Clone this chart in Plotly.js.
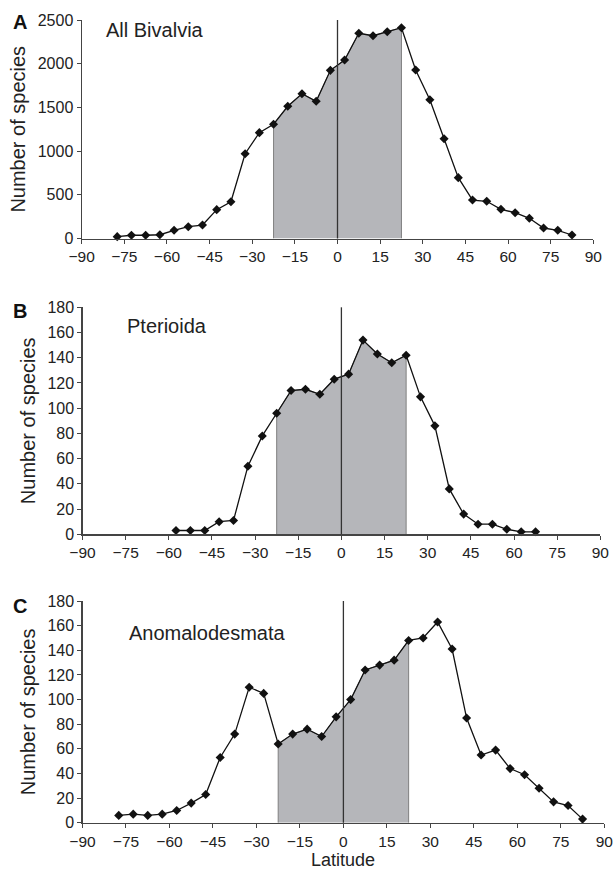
<!DOCTYPE html>
<html>
<head>
<meta charset="utf-8">
<script src="https://cdn.plot.ly/plotly-3.0.1.min.js"></script>
<style>html,body{margin:0;padding:0;background:#fff;}#chart{width:615px;height:870px;}</style>
</head>
<body>
<div id="chart"></div>
<script>
// Latitude band centres (degrees)
var latAll = [-77.5,-72.5,-67.5,-62.5,-57.5,-52.5,-47.5,-42.5,-37.5,-32.5,-27.5,-22.5,-17.5,-12.5,-7.5,-2.5,2.5,7.5,12.5,17.5,22.5,27.5,32.5,37.5,42.5,47.5,52.5,57.5,62.5,67.5,72.5,77.5,82.5];
var latPter = [-57.5,-52.5,-47.5,-42.5,-37.5,-32.5,-27.5,-22.5,-17.5,-12.5,-7.5,-2.5,2.5,7.5,12.5,17.5,22.5,27.5,32.5,37.5,42.5,47.5,52.5,57.5,62.5,67.5];
var latAnom = latAll;

// Number of species
var allBivalvia = [21,37,37,43,94,135,154,330,421,970,1211,1307,1513,1657,1570,1924,2042,2348,2320,2366,2412,1928,1588,1142,696,440,426,334,295,231,120,94,40];
var pterioida = [3,3,3,10,11,54,78,96,114,115,111,123,127,154,143,136,142,109,86,36,16,8,8,4,2,2];
var anomalodesmata = [6,7,6,7,10,16,23,53,72,110,105,64,72,76,70,86,100,124,128,132,148,150,163,141,85,55,59,44,39,28,17,14,3];

var panelNames = ["All Bivalvia","Pterioida","Anomalodesmata"];
var panelLetters = ["A","B","C"];
var xTicks = [-90,-75,-60,-45,-30,-15,0,15,30,45,60,75,90];
var xTickText = ["\u221290","\u221275","\u221260","\u221245","\u221230","\u221215","0","15","30","45","60","75","90"];
var tropicLimit = 22.5;

var W = 615, H = 870;
function px(x){return x/W;}
function py(y){return 1 - y/H;}

var panels = [
  {lat: latAll, val: allBivalvia, ymax: 2500, dtick: 500, xd:[81.7,593.3], yd:[20,238.5]},
  {lat: latPter, val: pterioida, ymax: 180, dtick: 20, xd:[82.5,600.3], yd:[307.3,534.3]},
  {lat: latAnom, val: anomalodesmata, ymax: 180, dtick: 20, xd:[82.5,604.3], yd:[601,822.8]}
];

var traces = [];
var layout = {
  width: W, height: H,
  margin: {l:0, r:0, t:0, b:0},
  paper_bgcolor: '#fff', plot_bgcolor: '#fff',
  showlegend: false,
  font: {family: 'Liberation Sans, Arial, sans-serif', color: '#222', size: 15},
  shapes: [], annotations: []
};

panels.forEach(function(p, i){
  var n = i + 1;
  var xa = 'x' + (n === 1 ? '' : n), ya = 'y' + (n === 1 ? '' : n);
  var xk = 'xaxis' + (n === 1 ? '' : n), yk = 'yaxis' + (n === 1 ? '' : n);
  // shaded tropical region
  var sx = [], sy = [];
  p.lat.forEach(function(l, j){ if (l >= -tropicLimit && l <= tropicLimit){ sx.push(l); sy.push(p.val[j]); } });
  var fx = [sx[0]].concat(sx).concat([sx[sx.length-1]]);
  var fy = [0].concat(sy).concat([0]);
  traces.push({x: fx, y: fy, xaxis: xa, yaxis: ya, type: 'scatter', mode: 'lines',
    fill: 'toself', fillcolor: '#b5b6ba', line: {color: '#808080', width: 1}, hoverinfo: 'skip'});
  traces.push({x: p.lat, y: p.val, xaxis: xa, yaxis: ya, type: 'scatter', mode: 'lines+markers',
    line: {color: '#111', width: 1.3}, marker: {symbol: 'diamond', size: 7, color: '#111'}, cliponaxis: false});
  layout[xk] = {
    domain: [px(p.xd[0]), px(p.xd[1])], anchor: ya, range: [-90, 90],
    tickmode: 'array', tickvals: xTicks, ticktext: xTickText, ticks: 'outside', ticklen: 4, tickcolor: '#444', tickwidth: 1,
    showline: true, linecolor: '#444', linewidth: 1.2, showgrid: false, zeroline: false,
    tickfont: {size: 15.5, color: '#222'}, fixedrange: true
  };
  layout[yk] = {
    domain: [py(p.yd[1]), py(p.yd[0])], anchor: xa, range: [0, p.ymax], dtick: p.dtick,
    ticks: 'outside', ticklen: 4, tickcolor: '#444', tickwidth: 1,
    showline: true, linecolor: '#444', linewidth: 1.2, showgrid: false, zeroline: false,
    tickfont: {size: 16, color: '#222'}, fixedrange: true,
    title: {text: 'Number of species', font: {size: 20, color: '#222'}, standoff: 6}
  };
  layout.shapes.push({type: 'line', xref: xa, yref: ya + ' domain', x0: 0, x1: 0, y0: 0, y1: 1,
    line: {color: '#333', width: 1.3}});
  var ty = [30, 326, 633][i];
  var tx = [104, 125, 127][i];
  layout.annotations.push({xref: 'paper', yref: 'paper', x: px(tx), y: py(ty), xanchor: 'left', yanchor: 'middle',
    text: panelNames[i], showarrow: false, font: {size: 20, color: '#222'}});
  var ly = [22, 311, 606][i];
  layout.annotations.push({xref: 'paper', yref: 'paper', x: px(19.5), y: py(ly), xanchor: 'center', yanchor: 'middle',
    text: '<b>' + panelLetters[i] + '</b>', showarrow: false, font: {size: 20, color: '#111'}});
});

// x-axis title of the bottom panel
layout.annotations.push({xref: 'x3', yref: 'paper', x: 0, y: 0, xanchor: 'center', yanchor: 'bottom', yshift: -2,
  text: 'Latitude', showarrow: false, font: {size: 18, color: '#222'}});

Plotly.newPlot('chart', traces, layout, {displayModeBar: false, staticPlot: true});
</script>
</body>
</html>
